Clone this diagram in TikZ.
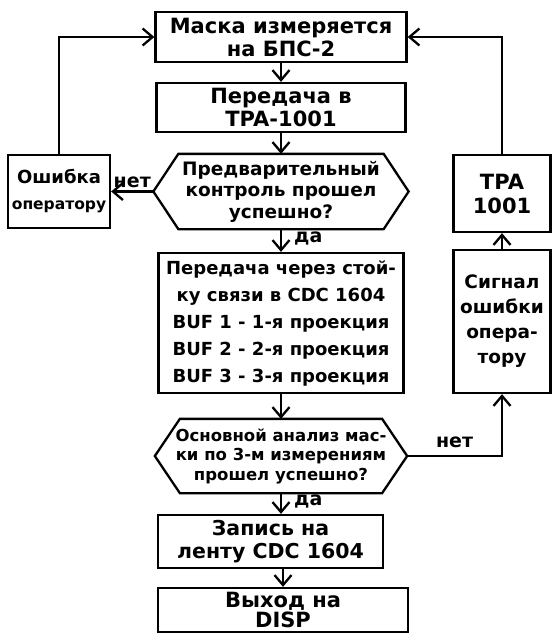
\documentclass[tikz,border=0pt]{standalone}
\usepackage{fontspec}
\setmainfont{DejaVu Sans}
\usetikzlibrary{arrows.meta}

% hexagon round a plain node
\newcommand\hexframe[1]{\draw ([xshift=25pt]#1.north west) -- ([xshift=-25pt]#1.north east) -- (#1.east)
  -- ([xshift=-25pt]#1.south east) -- ([xshift=25pt]#1.south west) -- (#1.west) -- cycle;}

\begin{document}
\begin{tikzpicture}[x=1pt,y=-1pt,line width=2.3pt,
  box/.style={draw,inner sep=0pt,align=center},
  hexa/.style={inner sep=0pt,align=center},
  arr/.style={-{Straight Barb[length=10pt,width=17pt]}},
  lbl/.style={font=\bfseries\fontsize{19}{20}\selectfont,inner sep=2pt}]

\useasboundingbox (0,0) rectangle (552,634);

% main column
\node[box,minimum width=251,minimum height=50,font=\bfseries\fontsize{21}{23}\selectfont] (mask) at (281,37) {Маска измеряется\\на БПС-2};
\node[box,minimum width=249,minimum height=49,font=\bfseries\fontsize{21}{23}\selectfont] (pered) at (281,107.5) {Передача в\\TPA-1001};
\node[hexa,minimum width=253,minimum height=73,font=\bfseries\fontsize{18.5}{21.5}\selectfont] (check1) at (281,191.5) {Предварительный\\контроль прошел\\успешно?};
\hexframe{check1}
\node[box,minimum width=245,minimum height=140,font=\bfseries\fontsize{18}{27}\selectfont] (bufs) at (281,323) {Передача через стой-\\ку связи в CDC 1604\\BUF 1 - 1-я проекция\\BUF 2 - 2-я проекция\\BUF 3 - 3-я проекция};
\node[hexa,minimum width=250,minimum height=72,font=\bfseries\fontsize{16.5}{19.5}\selectfont] (check2) at (281,456) {Основной анализ мас-\\ки по 3-м измерениям\\прошел успешно?};
\hexframe{check2}
\node[box,minimum width=225,minimum height=53,font=\bfseries\fontsize{20.5}{23}\selectfont] (tape) at (270.5,541.5) {Запись на\\ленту CDC 1604};
\node[box,minimum width=250,minimum height=44,font=\bfseries\fontsize{21}{18}\selectfont] (disp) at (283,610) {Выход на\\DISP};

% side boxes
\node[box,minimum width=102,minimum height=73,font=\bfseries\fontsize{15.5}{26}\selectfont] (err1) at (59,191.5) {{\fontsize{18}{20}\selectfont Ошибка}\\оператору};
\node[box,minimum width=97,minimum height=77,font=\bfseries\fontsize{21}{24}\selectfont] (tpa) at (502,193.5) {TPA\\1001};
\node[box,minimum width=97,minimum height=143,font=\bfseries\fontsize{18.5}{25}\selectfont] (sig) at (502,321.5) {Сигнал\\ошибки\\опера-\\тору};

% connectors
\draw[arr] (mask) -- (pered);
\draw[arr] (pered) -- (check1);
\draw[arr] (check1) -- (bufs) node[pos=0.4,right=10pt,lbl] {да};
\draw[arr] (bufs) -- (check2);
\draw[arr] (check2.south) -- (check2.south |- tape.north) node[pos=0.4,right=10pt,lbl] {да};
\draw[arr] (tape.south -| disp.north) -- (disp.north);
\draw[arr] (check1.west) -- (err1.east) node[midway,above=1pt,lbl] {нет};
\draw[arr] (err1.north) |- (mask.west);
\draw[arr] (check2.east) -| (sig.south) node[pos=0.25,above=5pt,lbl] {нет};
\draw[arr] (sig) -- (tpa);
\draw[arr] (tpa.north) |- (mask.east);

\end{tikzpicture}
\end{document}
